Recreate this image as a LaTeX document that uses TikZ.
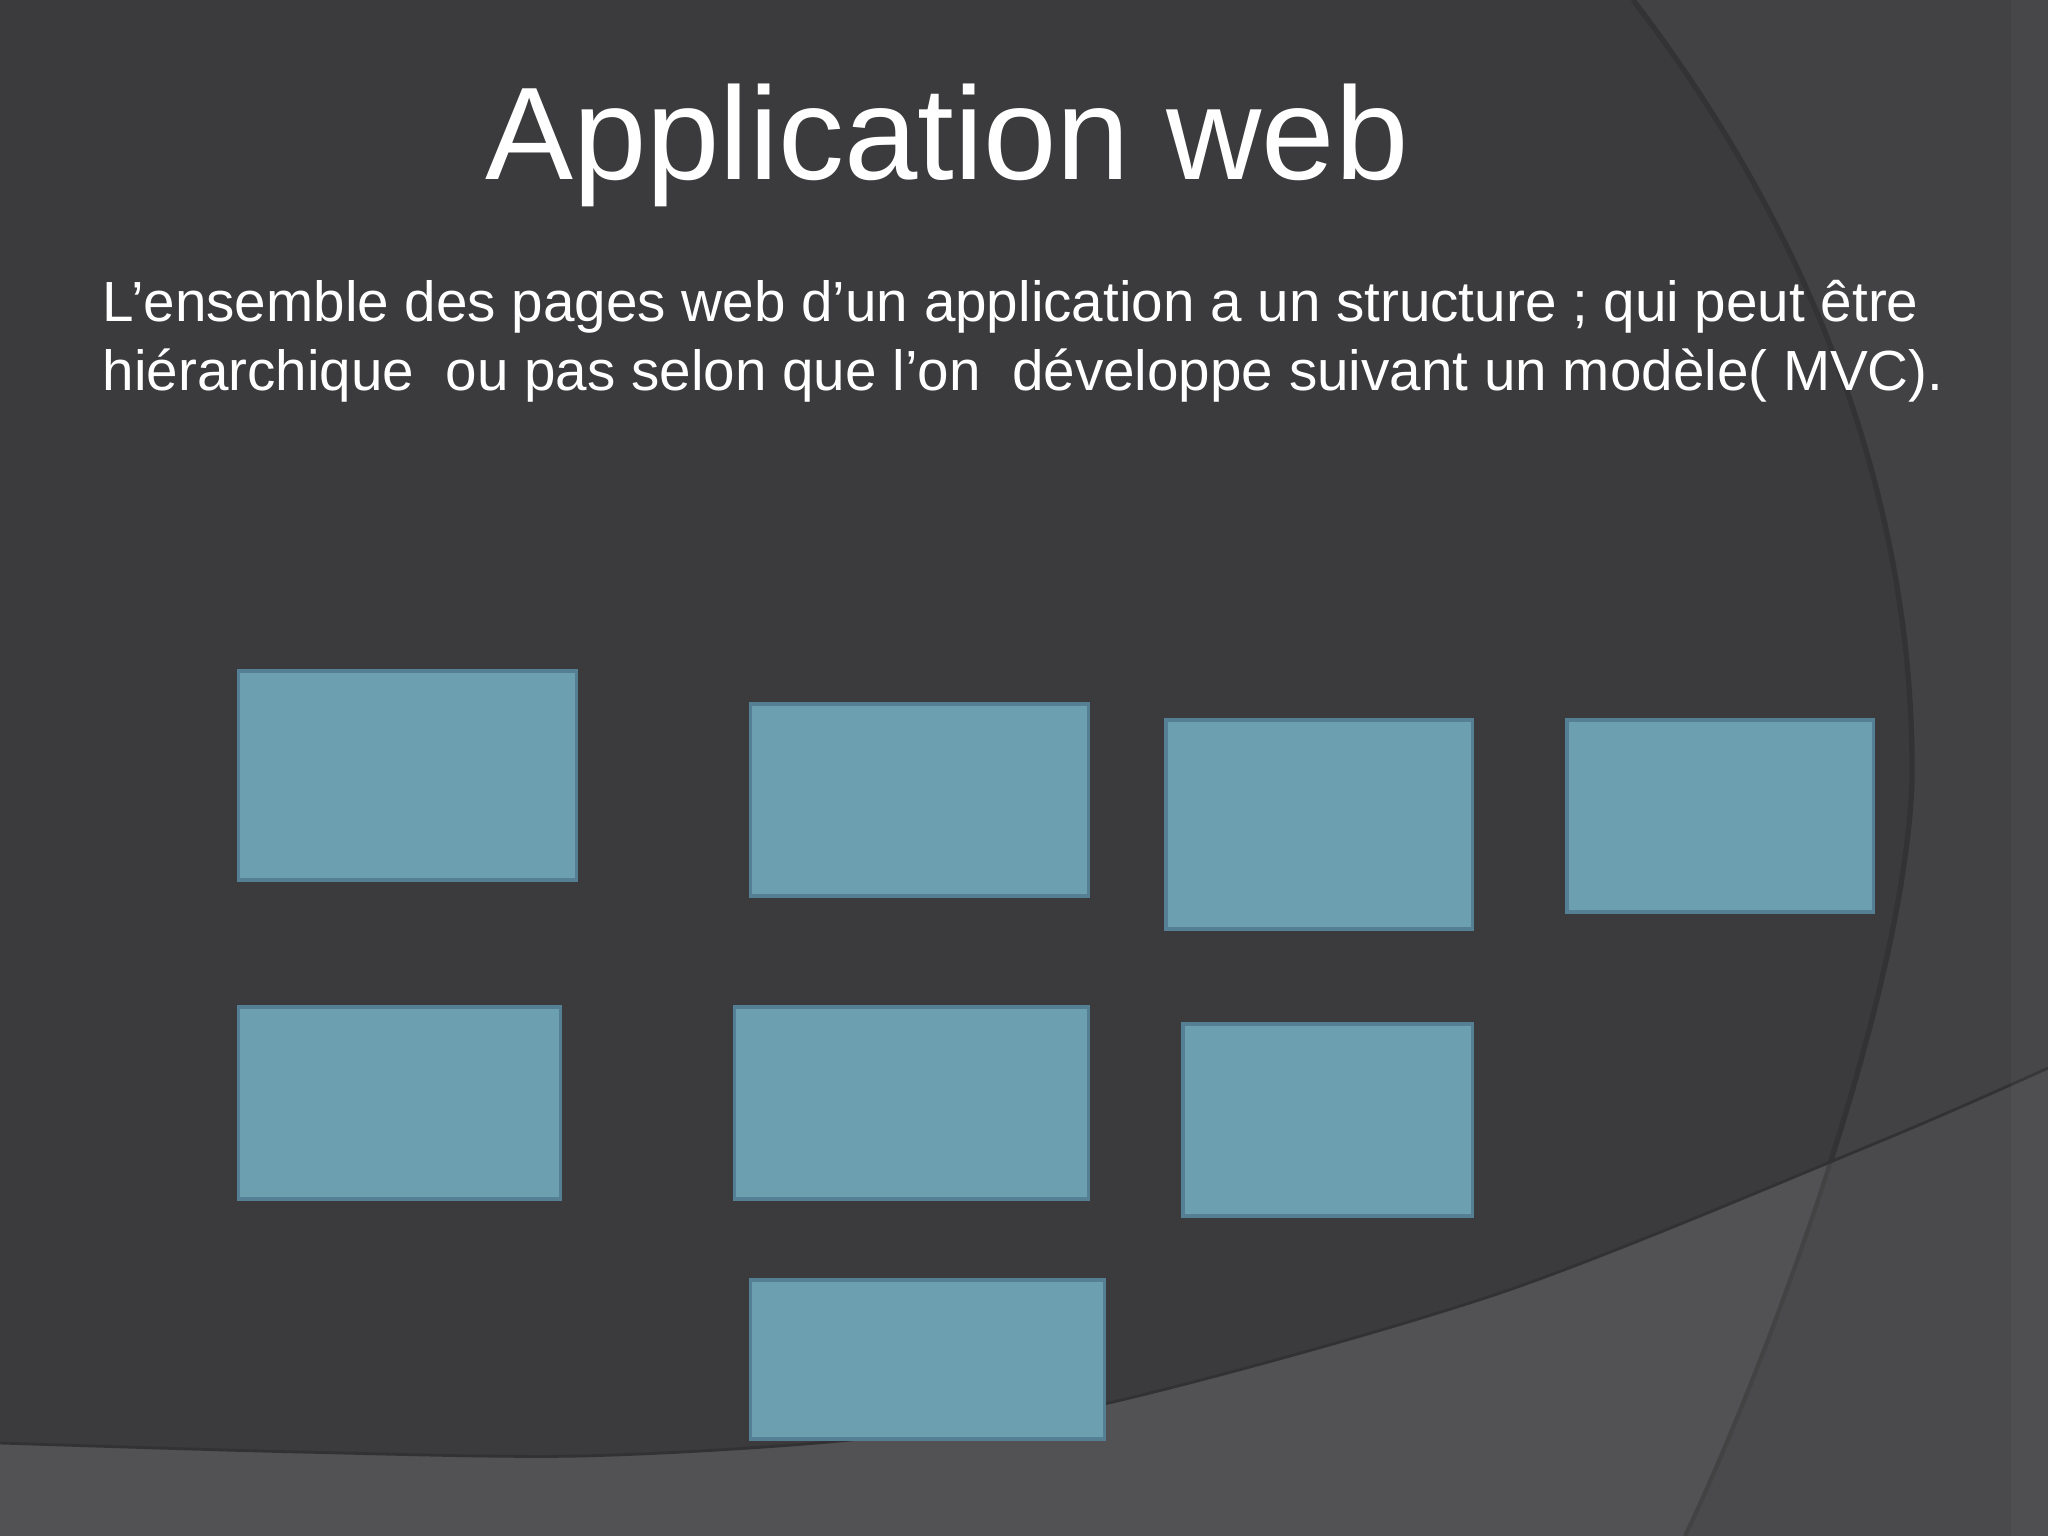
\documentclass[tikz,border=0pt]{standalone}
\usepackage{fontspec}
\setmainfont{Liberation Sans}
\definecolor{bgdark}{HTML}{3B3B3D}
\definecolor{bgright}{HTML}{424244}
\definecolor{band}{HTML}{525254}
\definecolor{bandright}{HTML}{4A4A4C}
\definecolor{arcline}{HTML}{333335}
\definecolor{boxfill}{HTML}{6CA0B0}
\definecolor{boxline}{HTML}{557F94}
\tikzset{
  pagebox/.style={draw=boxline, line width=0.9pt, fill=boxfill, rectangle, inner sep=0pt, outer sep=0pt},
  titletext/.style={text=white, font=\fontsize{37.5}{45}\selectfont, inner sep=0pt},
  bodytext/.style={text=white, font=\fontsize{16.1}{19.6}\selectfont, align=left, inner sep=0pt}
}
\begin{document}
\begin{tikzpicture}[x=0.01cm, y=-0.01cm]
\useasboundingbox (0,0) rectangle (2048,1536);
% background
\fill[bgdark] (0,0) rectangle (2048,1536);
\fill[bgright] (1633,0) .. controls (1810,230) and (1915,500) .. (1912,780) .. controls (1905,1000) and (1760,1380) .. (1685,1536) -- (2048,1536) -- (2048,0) -- cycle;
\fill[band] (0,1536) -- plot[smooth] coordinates {(0,1443) (300,1452) (580,1456) (850,1440) (1104,1404) (1500,1293) (1876,1143) (2048,1068)} -- (2048,1536) -- cycle;
\begin{scope}
  \clip (0,1536) -- plot[smooth] coordinates {(0,1443) (300,1452) (580,1456) (850,1440) (1104,1404) (1500,1293) (1876,1143) (2048,1068)} -- (2048,1536) -- cycle;
  \fill[bandright] (1633,0) .. controls (1810,230) and (1915,500) .. (1912,780) .. controls (1905,1000) and (1760,1380) .. (1685,1536) -- (2048,1536) -- (2048,0) -- cycle;
  \draw[color=bandright!90!black, line width=1.2pt] (1633,0) .. controls (1810,230) and (1915,500) .. (1912,780) .. controls (1905,1000) and (1760,1380) .. (1685,1536);
\end{scope}
\begin{scope}
  \clip (0,0) -- (0,1443) -- plot[smooth] coordinates {(0,1443) (300,1452) (580,1456) (850,1440) (1104,1404) (1500,1293) (1876,1143) (2048,1068)} -- (2048,0) -- cycle;
  \draw[color=arcline, line width=1.5pt] (1633,0) .. controls (1810,230) and (1915,500) .. (1912,780) .. controls (1905,1000) and (1760,1380) .. (1685,1536);
\end{scope}
\draw[color=bgdark!85!black, line width=0.8pt] plot[smooth] coordinates {(0,1443) (300,1452) (580,1456) (850,1440) (1104,1404) (1500,1293) (1876,1143) (2048,1068)};
\fill[white, opacity=0.03] (2011,0) rectangle (2048,1536);
% title and text
\node[titletext, anchor=base] (title) at (947,179) {Application web};
\node[bodytext, anchor=base west] (body) at (102,390.5) {L’ensemble des pages web d’un application a un structure ; qui peut être\\hiérarchique~ ou pas selon que l’on~ développe suivant un modèle( MVC).};
% boxes
\node[pagebox, minimum width=3.37cm, minimum height=2.09cm] (b1) at (407.5,775.5) {};
\node[pagebox, minimum width=3.37cm, minimum height=1.92cm] (b2) at (919.5,800) {};
\node[pagebox, minimum width=3.06cm, minimum height=2.09cm] (b3) at (1319,824.5) {};
\node[pagebox, minimum width=3.06cm, minimum height=1.92cm] (b4) at (1720,816) {};
\node[pagebox, minimum width=3.21cm, minimum height=1.92cm] (b5) at (399.5,1103) {};
\node[pagebox, minimum width=3.53cm, minimum height=1.92cm] (b6) at (911.5,1103) {};
\node[pagebox, minimum width=2.89cm, minimum height=1.92cm] (b7) at (1327.5,1120) {};
\node[pagebox, minimum width=3.53cm, minimum height=1.59cm] (b8) at (927.5,1359.5) {};
\end{tikzpicture}
\end{document}
